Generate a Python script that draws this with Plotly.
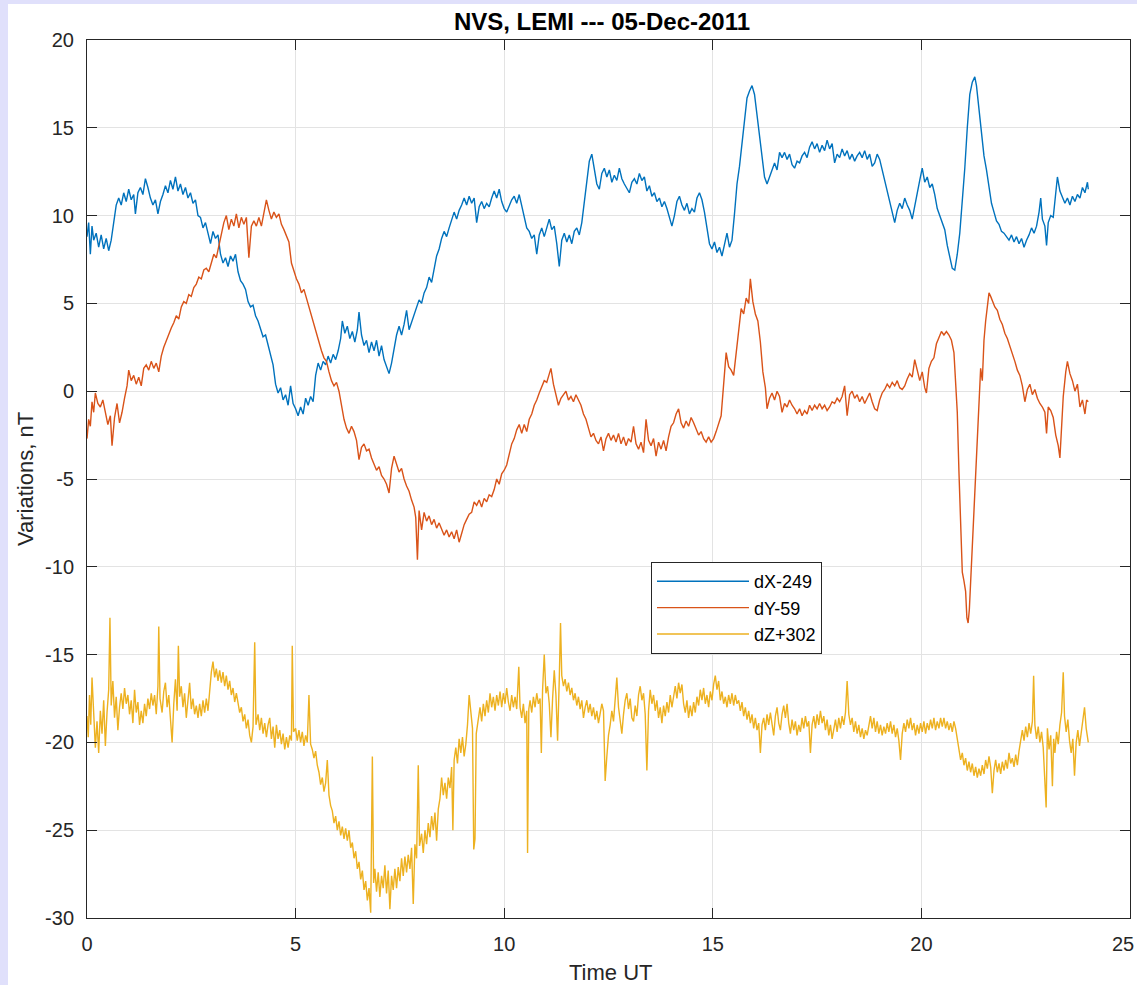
import plotly.graph_objects as go

# ---- data ----
t_dx = [0.00,0.04,0.08,0.12,0.16,0.22,0.28,0.34,0.40,0.46,0.52,0.58,0.64,0.70,0.76,0.82,0.88,0.94,1.00,1.06,
        1.12,1.16,1.22,1.28,1.34,1.40,1.46,1.52,1.58,1.64,1.70,1.76,1.82,1.88,1.94,2.00,2.06,2.12,2.18,2.24,
        2.30,2.36,2.42,2.48,2.54,2.60,2.66,2.72,2.78,2.84,2.90,2.96,3.02,3.08,3.14,3.20,3.26,3.32,3.38,3.44,
        3.50,3.56,3.62,3.68,3.74,3.80,3.86,3.92,3.98,4.04,4.10,4.16,4.22,4.28,4.34,4.40,4.46,4.52,4.58,4.64,
        4.70,4.76,4.82,4.88,4.94,5.00,5.06,5.12,5.18,5.24,5.30,5.36,5.42,5.48,5.54,5.60,5.66,5.72,5.78,5.84,
        5.90,5.96,6.02,6.08,6.12,6.18,6.24,6.30,6.36,6.42,6.48,6.52,6.58,6.64,6.70,6.76,6.82,6.88,6.94,7.00,
        7.06,7.12,7.18,7.24,7.30,7.36,7.42,7.48,7.54,7.60,7.66,7.72,7.78,7.84,7.90,7.96,8.02,8.08,8.14,8.20,
        8.26,8.32,8.38,8.44,8.50,8.56,8.62,8.68,8.74,8.80,8.86,8.92,8.98,9.04,9.10,9.16,9.22,9.28,9.34,9.40,
        9.46,9.52,9.58,9.64,9.70,9.76,9.82,9.88,9.94,10.00,10.06,10.12,10.18,10.24,10.30,10.36,10.42,10.48,10.54,10.60,
        10.66,10.72,10.78,10.84,10.90,10.96,11.02,11.08,11.14,11.20,11.26,11.32,11.38,11.44,11.50,11.56,11.62,11.68,11.74,11.80,
        11.86,11.92,11.98,12.04,12.10,12.16,12.22,12.28,12.34,12.40,12.46,12.52,12.58,12.64,12.70,12.76,12.82,12.88,12.94,13.00,
        13.06,13.12,13.18,13.24,13.30,13.36,13.42,13.48,13.54,13.60,13.66,13.72,13.78,13.84,13.90,13.96,14.02,14.08,14.14,14.20,
        14.26,14.32,14.38,14.44,14.50,14.56,14.62,14.68,14.74,14.80,14.86,14.92,14.98,15.04,15.10,15.16,15.22,15.28,15.34,15.40,
        15.46,15.52,15.58,15.64,15.70,15.76,15.82,15.88,15.94,16.00,16.06,16.12,16.18,16.24,16.30,16.36,16.42,16.48,16.54,16.60,
        16.66,16.72,16.78,16.84,16.90,16.96,17.02,17.08,17.14,17.20,17.26,17.32,17.38,17.44,17.50,17.56,17.62,17.68,17.74,17.80,
        17.86,17.92,17.98,18.04,18.10,18.16,18.22,18.28,18.34,18.40,18.46,18.52,18.58,18.64,18.70,18.76,18.82,18.88,18.94,19.00,
        19.06,19.12,19.18,19.24,19.30,19.36,19.42,19.48,19.54,19.60,19.66,19.72,19.78,19.84,19.90,19.96,20.02,20.08,20.14,20.20,
        20.26,20.32,20.38,20.44,20.50,20.56,20.62,20.68,20.74,20.80,20.86,20.92,20.98,21.04,21.10,21.16,21.22,21.28,21.32,21.38,
        21.44,21.50,21.56,21.62,21.68,21.74,21.80,21.86,21.92,21.98,22.04,22.10,22.16,22.22,22.28,22.34,22.40,22.46,22.52,22.58,
        22.64,22.70,22.76,22.82,22.86,22.90,22.96,23.00,23.04,23.10,23.16,23.22,23.26,23.32,23.38,23.44,23.50,23.56,23.62,23.68,
        23.74,23.80,23.86,23.92,23.98,24.00]
dx = [8.8,9.6,7.8,9.4,8.6,9.0,8.2,8.9,8.1,8.7,8.0,8.6,9.6,10.6,11.0,10.6,11.3,10.8,11.5,10.9,
      11.2,10.1,11.3,11.6,11.2,12.1,11.6,11.0,10.6,10.9,10.1,10.8,11.2,11.7,11.3,12.0,11.5,12.2,11.4,11.8,
      11.2,11.6,11.0,11.3,10.7,10.9,10.0,9.9,9.3,9.6,9.0,8.4,9.1,8.7,8.9,7.8,7.3,7.6,7.1,7.7,
      7.4,7.8,6.8,6.3,6.1,5.8,5.1,4.8,4.9,4.3,4.0,3.6,3.1,3.2,2.6,2.1,1.5,0.4,-0.1,0.2,
      -0.5,-0.2,-0.8,0.3,-0.7,-1.0,-1.4,-0.9,-1.3,-0.4,-0.8,-0.3,-0.6,0.9,1.6,1.2,1.7,1.5,2.0,1.6,
      2.1,1.8,2.3,3.0,4.0,3.3,3.7,3.0,3.4,2.8,3.5,4.5,3.2,2.6,2.9,2.2,2.8,2.3,2.9,2.0,
      2.6,1.8,1.4,1.0,1.6,2.4,3.2,3.7,3.2,3.8,4.6,3.5,3.9,4.3,4.8,5.2,5.0,5.6,5.9,6.5,
      6.2,6.9,7.7,8.1,8.7,9.1,8.8,9.3,9.8,10.2,9.8,10.3,10.6,11.0,10.6,11.1,10.7,11.0,9.6,10.5,
      10.8,10.4,10.7,10.5,11.0,11.4,11.0,11.5,10.8,10.4,10.2,10.6,10.9,11.1,10.7,11.2,10.6,9.9,9.3,9.1,
      8.7,8.9,7.8,8.9,9.3,8.8,9.3,9.8,9.2,9.4,8.4,7.1,8.6,9.0,8.5,8.9,8.4,9.1,9.3,8.9,
      9.6,10.7,12.0,13.1,13.5,12.7,11.8,11.5,12.4,12.7,12.2,12.6,11.9,12.3,12.0,12.7,12.1,11.8,11.5,11.3,
      11.9,12.1,11.8,12.4,12.0,12.2,11.4,11.7,11.1,11.3,10.8,11.0,10.5,10.8,10.4,9.9,9.4,10.0,10.8,11.1,
      10.6,10.3,10.7,10.1,10.4,10.2,11.0,11.3,10.9,10.2,9.3,8.4,8.1,8.5,7.9,8.2,7.7,8.4,9.0,8.2,
      8.6,10.1,11.8,12.8,14.2,15.6,16.7,17.1,17.4,16.9,15.8,14.5,13.3,12.2,11.8,12.2,12.7,13.0,12.6,13.6,
      13.3,13.6,13.2,13.5,12.9,12.7,13.1,13.0,13.4,13.6,13.3,13.9,14.2,13.8,14.1,13.6,14.0,13.7,14.3,13.8,
      14.1,13.0,13.5,13.3,13.8,13.4,13.7,13.2,13.5,13.1,13.4,13.6,13.3,13.7,13.2,13.5,12.8,13.0,13.5,13.2,
      12.6,12.0,11.4,10.9,10.2,9.6,10.3,10.7,10.4,11.0,10.6,10.3,9.8,10.6,11.4,12.0,12.7,11.9,12.2,11.6,
      11.8,11.2,10.4,10.0,9.5,9.2,8.3,7.7,7.0,6.9,7.8,9.0,10.8,12.7,15.0,16.9,17.6,17.9,17.4,16.0,
      14.6,13.4,12.6,11.6,10.7,10.2,9.7,9.5,9.1,9.0,8.8,8.6,8.9,8.5,8.8,8.4,8.7,8.2,8.6,8.9,
      9.3,9.0,9.4,10.2,11.0,9.8,9.4,8.3,9.6,10.0,9.9,11.4,12.2,11.4,11.0,10.7,11.0,10.6,11.1,10.8,
      11.2,11.0,11.6,11.3,11.9,11.5]

t_dy = [0.00,0.04,0.08,0.12,0.16,0.20,0.26,0.32,0.38,0.44,0.50,0.56,0.60,0.66,0.72,0.78,0.84,0.90,0.96,1.00,
        1.06,1.12,1.18,1.24,1.30,1.36,1.42,1.48,1.54,1.60,1.66,1.72,1.78,1.84,1.90,1.96,2.02,2.08,2.14,2.20,
        2.26,2.32,2.38,2.44,2.50,2.56,2.62,2.68,2.74,2.80,2.86,2.92,2.98,3.04,3.10,3.16,3.22,3.28,3.34,3.40,
        3.46,3.52,3.58,3.64,3.70,3.76,3.82,3.88,3.94,4.00,4.06,4.12,4.18,4.24,4.30,4.36,4.42,4.48,4.54,4.60,
        4.66,4.72,4.78,4.84,4.90,4.96,5.02,5.08,5.14,5.20,5.26,5.32,5.38,5.44,5.50,5.56,5.62,5.68,5.74,5.80,
        5.86,5.92,5.98,6.04,6.10,6.16,6.22,6.28,6.34,6.40,6.46,6.52,6.58,6.64,6.70,6.76,6.82,6.88,6.94,7.00,
        7.06,7.12,7.18,7.24,7.30,7.36,7.42,7.48,7.54,7.60,7.66,7.72,7.78,7.84,7.88,7.92,7.96,8.02,8.08,8.14,
        8.20,8.26,8.32,8.38,8.44,8.50,8.56,8.62,8.68,8.74,8.80,8.86,8.92,8.98,9.04,9.10,9.16,9.22,9.28,9.34,
        9.40,9.46,9.52,9.58,9.64,9.70,9.76,9.82,9.88,9.94,10.00,10.06,10.12,10.18,10.24,10.30,10.36,10.42,10.48,10.54,
        10.60,10.66,10.72,10.78,10.84,10.90,10.96,11.02,11.08,11.12,11.18,11.24,11.30,11.36,11.42,11.48,11.54,11.60,11.66,11.72,
        11.78,11.84,11.90,11.96,12.02,12.08,12.14,12.20,12.26,12.32,12.38,12.44,12.50,12.56,12.62,12.68,12.74,12.80,12.86,12.92,
        12.98,13.04,13.10,13.16,13.22,13.28,13.34,13.40,13.46,13.52,13.58,13.64,13.70,13.76,13.82,13.88,13.94,14.00,14.06,14.12,
        14.18,14.24,14.30,14.36,14.42,14.48,14.54,14.60,14.66,14.72,14.78,14.84,14.90,14.96,15.02,15.08,15.14,15.20,15.26,15.32,
        15.38,15.44,15.50,15.56,15.62,15.68,15.74,15.80,15.86,15.90,15.96,16.02,16.08,16.14,16.20,16.26,16.30,16.36,16.42,16.48,
        16.54,16.60,16.66,16.72,16.78,16.84,16.90,16.96,17.02,17.08,17.14,17.20,17.26,17.32,17.38,17.44,17.50,17.56,17.62,17.68,
        17.74,17.80,17.86,17.92,17.98,18.04,18.10,18.16,18.22,18.28,18.34,18.40,18.46,18.52,18.58,18.64,18.70,18.76,18.82,18.88,
        18.94,19.00,19.06,19.12,19.18,19.24,19.30,19.36,19.42,19.48,19.54,19.60,19.66,19.72,19.78,19.84,19.90,19.96,20.02,20.08,
        20.12,20.18,20.24,20.30,20.36,20.42,20.48,20.54,20.60,20.66,20.72,20.78,20.82,20.86,20.90,20.94,20.98,21.02,21.06,21.09,
        21.12,21.15,21.18,21.22,21.26,21.30,21.34,21.38,21.42,21.46,21.50,21.54,21.58,21.62,21.66,21.70,21.76,21.82,21.88,21.94,
        22.00,22.06,22.12,22.18,22.24,22.30,22.36,22.42,22.48,22.54,22.60,22.66,22.72,22.78,22.84,22.90,22.96,23.00,23.04,23.10,
        23.16,23.22,23.28,23.32,23.36,23.40,23.46,23.50,23.56,23.62,23.68,23.74,23.80,23.86,23.92,23.96,24.00]
dy = [-2.7,-1.6,-2.0,-0.6,-1.2,-0.1,-0.7,-0.9,-0.5,-1.3,-1.9,-1.4,-3.1,-1.5,-0.7,-1.8,-1.2,-0.4,0.3,1.2,
      0.6,0.9,0.4,0.8,0.3,1.3,1.5,1.2,1.7,1.3,1.6,1.1,2.0,2.5,2.9,3.3,3.6,3.9,4.3,4.1,
      4.8,5.1,5.0,5.5,5.4,5.9,6.1,6.5,6.4,6.9,7.0,6.8,7.3,7.8,7.6,8.3,8.9,9.6,10.0,9.2,
      9.8,9.4,10.1,9.3,9.9,9.5,9.9,7.6,9.4,9.7,9.4,9.9,9.4,10.2,10.9,10.3,9.8,10.2,9.9,10.1,
      9.5,9.2,8.8,8.5,7.3,6.8,6.4,6.1,5.6,5.8,5.3,4.7,4.2,3.7,3.2,2.8,2.3,1.9,1.7,1.1,
      0.6,0.3,0.5,0.0,-0.9,-1.6,-2.1,-2.4,-2.0,-2.3,-2.8,-3.9,-3.2,-3.0,-3.4,-3.3,-3.8,-4.1,-4.5,-4.3,
      -4.8,-5.0,-5.3,-5.8,-4.4,-3.7,-4.1,-4.6,-4.4,-5.0,-5.4,-5.7,-6.2,-6.6,-7.2,-9.6,-6.8,-7.9,-6.9,-7.4,
      -7.1,-7.6,-7.3,-7.8,-7.5,-7.9,-8.2,-7.9,-8.3,-8.0,-8.4,-7.9,-8.6,-8.1,-7.6,-7.3,-7.0,-6.9,-6.3,-6.5,
      -6.2,-6.6,-6.1,-6.3,-5.9,-6.0,-5.6,-5.0,-5.3,-4.7,-4.5,-4.2,-3.6,-3.0,-2.7,-2.2,-1.9,-2.4,-1.9,-2.3,
      -1.6,-1.3,-0.8,-0.5,-0.1,0.3,0.6,0.5,1.0,1.3,0.4,-0.2,-0.8,-0.4,-0.2,0.0,-0.5,-0.3,-0.6,-0.2,
      -0.5,-0.8,-1.3,-1.6,-2.1,-2.6,-2.4,-2.8,-3.0,-2.6,-3.4,-2.7,-2.4,-2.8,-2.5,-2.9,-2.4,-3.0,-2.6,-3.1,
      -2.7,-2.9,-2.0,-3.0,-3.3,-2.9,-3.5,-1.6,-2.8,-3.1,-2.7,-3.7,-2.9,-3.3,-2.8,-3.4,-2.6,-2.0,-1.8,-1.3,
      -1.0,-1.8,-2.1,-1.7,-2.0,-1.5,-1.8,-2.2,-2.5,-2.3,-2.7,-2.9,-2.6,-2.9,-2.7,-2.3,-1.8,-1.4,0.4,2.2,
      1.4,1.2,0.9,2.3,3.6,4.7,4.4,5.3,5.0,6.4,5.1,4.4,4.0,2.8,1.1,0.2,-1.0,-0.4,-0.1,-0.5,
      0.0,-0.3,-1.2,-0.7,-0.9,-0.5,-0.8,-1.0,-1.3,-1.0,-1.4,-1.1,-1.3,-0.8,-1.1,-0.8,-1.0,-0.7,-1.0,-0.8,
      -1.1,-0.9,-0.6,-0.7,-0.4,-0.6,-0.3,0.3,-1.4,-0.2,0.0,-0.4,-0.2,-0.6,-0.3,-0.7,-0.4,-0.1,-0.6,-1.0,
      -1.1,-0.5,-0.1,0.1,0.4,0.2,0.5,0.3,0.6,0.2,0.1,0.3,0.7,1.0,0.8,1.8,1.2,0.6,1.1,0.2,
      -0.1,1.3,1.7,1.9,2.7,3.1,3.4,3.2,3.4,3.2,2.9,2.2,0.6,-1.2,-4.6,-8.0,-10.3,-10.8,-11.4,-12.9,
      -13.2,-12.4,-10.9,-8.6,-6.3,-4.4,-2.6,-0.8,1.3,0.6,2.9,4.0,5.0,5.6,5.4,5.2,4.8,4.6,4.1,3.8,
      3.3,3.0,2.6,2.1,1.7,1.2,0.9,0.3,-0.6,0.1,0.4,-0.2,0.1,-0.4,-0.7,-0.9,-1.2,-2.4,-0.9,-1.1,
      -1.5,-2.5,-3.1,-3.8,-1.8,-0.3,1.1,1.7,1.0,0.6,0.0,0.4,-0.9,-0.5,-1.3,-0.5,-0.6]

t_dz = [0.00,0.03,0.06,0.09,0.12,0.16,0.20,0.24,0.28,0.32,0.36,0.40,0.44,0.48,0.52,0.55,0.58,0.62,0.66,0.70,
        0.74,0.78,0.82,0.86,0.90,0.94,0.98,1.02,1.06,1.10,1.14,1.18,1.22,1.26,1.30,1.34,1.38,1.42,1.46,1.50,
        1.54,1.58,1.62,1.66,1.70,1.72,1.75,1.80,1.84,1.88,1.92,1.96,2.00,2.04,2.08,2.12,2.16,2.19,2.22,2.26,
        2.30,2.34,2.38,2.42,2.46,2.50,2.54,2.58,2.62,2.66,2.70,2.74,2.78,2.82,2.86,2.90,2.94,2.98,3.02,3.06,
        3.10,3.14,3.18,3.22,3.26,3.30,3.34,3.38,3.42,3.46,3.50,3.54,3.58,3.62,3.66,3.70,3.74,3.78,3.82,3.86,
        3.90,3.94,3.98,4.02,4.05,4.10,4.14,4.18,4.22,4.26,4.30,4.34,4.38,4.42,4.46,4.50,4.54,4.58,4.62,4.66,
        4.70,4.74,4.78,4.82,4.86,4.90,4.92,4.95,5.00,5.04,5.08,5.12,5.16,5.20,5.24,5.28,5.32,5.36,5.40,5.44,
        5.48,5.52,5.56,5.60,5.64,5.68,5.72,5.76,5.80,5.84,5.88,5.92,5.96,6.00,6.04,6.08,6.12,6.16,6.20,6.24,
        6.28,6.32,6.36,6.40,6.44,6.48,6.52,6.56,6.60,6.64,6.68,6.72,6.76,6.80,6.84,6.87,6.90,6.94,6.98,7.02,
        7.06,7.10,7.14,7.18,7.22,7.26,7.30,7.34,7.38,7.42,7.46,7.50,7.54,7.58,7.62,7.66,7.70,7.74,7.78,7.82,
        7.86,7.90,7.94,7.97,8.02,8.06,8.10,8.14,8.18,8.22,8.26,8.30,8.34,8.38,8.42,8.46,8.50,8.54,8.58,8.62,
        8.66,8.70,8.74,8.77,8.80,8.84,8.88,8.92,8.96,9.00,9.04,9.08,9.12,9.16,9.20,9.24,9.27,9.30,9.33,9.38,
        9.42,9.46,9.50,9.54,9.58,9.62,9.66,9.70,9.74,9.78,9.82,9.86,9.90,9.94,9.98,10.02,10.06,10.10,10.14,10.18,
        10.22,10.26,10.30,10.35,10.38,10.42,10.46,10.50,10.54,10.56,10.59,10.62,10.66,10.70,10.74,10.78,10.82,10.86,10.89,10.92,
        10.96,11.00,11.04,11.08,11.12,11.16,11.20,11.24,11.28,11.32,11.35,11.38,11.42,11.46,11.50,11.54,11.58,11.62,11.66,11.70,
        11.74,11.78,11.82,11.86,11.90,11.94,11.98,12.02,12.06,12.10,12.14,12.18,12.22,12.26,12.30,12.34,12.38,12.42,12.46,12.50,
        12.54,12.58,12.62,12.66,12.70,12.74,12.78,12.82,12.86,12.90,12.94,12.98,13.02,13.06,13.10,13.14,13.18,13.22,13.26,13.30,
        13.34,13.38,13.42,13.46,13.50,13.54,13.58,13.62,13.66,13.70,13.74,13.78,13.82,13.86,13.90,13.94,13.98,14.02,14.06,14.10,
        14.14,14.18,14.22,14.26,14.30,14.34,14.38,14.42,14.46,14.50,14.54,14.58,14.62,14.66,14.70,14.74,14.78,14.82,14.86,14.90,
        14.94,14.98,15.02,15.06,15.10,15.14,15.18,15.22,15.26,15.30,15.34,15.38,15.42,15.46,15.50,15.54,15.58,15.62,15.66,15.70,
        15.74,15.78,15.82,15.86,15.90,15.94,15.98,16.02,16.06,16.10,16.14,16.18,16.22,16.26,16.30,16.34,16.38,16.42,16.46,16.50,
        16.54,16.58,16.62,16.66,16.70,16.74,16.78,16.82,16.86,16.90,16.94,16.98,17.02,17.06,17.10,17.14,17.18,17.22,17.26,17.30,
        17.34,17.38,17.42,17.46,17.50,17.54,17.58,17.62,17.66,17.70,17.74,17.78,17.82,17.86,17.90,17.94,17.98,18.02,18.06,18.10,
        18.14,18.18,18.22,18.26,18.30,18.34,18.38,18.42,18.46,18.50,18.54,18.58,18.62,18.66,18.70,18.74,18.78,18.82,18.86,18.90,
        18.94,18.98,19.02,19.06,19.10,19.14,19.18,19.22,19.26,19.30,19.34,19.38,19.42,19.46,19.50,19.54,19.58,19.62,19.66,19.70,
        19.74,19.78,19.82,19.86,19.90,19.94,19.98,20.02,20.06,20.10,20.14,20.18,20.22,20.26,20.30,20.34,20.38,20.42,20.46,20.50,
        20.54,20.58,20.62,20.66,20.70,20.74,20.78,20.82,20.86,20.90,20.94,20.98,21.02,21.06,21.10,21.14,21.18,21.22,21.26,21.30,
        21.34,21.38,21.42,21.46,21.50,21.54,21.58,21.62,21.66,21.70,21.74,21.78,21.82,21.86,21.90,21.94,21.98,22.02,22.06,22.10,
        22.14,22.18,22.22,22.26,22.30,22.34,22.38,22.42,22.46,22.50,22.54,22.58,22.62,22.66,22.69,22.72,22.76,22.80,22.84,22.88,
        22.92,22.96,22.99,23.02,23.06,23.10,23.14,23.17,23.20,23.24,23.28,23.32,23.36,23.40,23.43,23.47,23.51,23.55,23.59,23.63,
        23.67,23.71,23.75,23.79,23.83,23.87,23.91,23.95,24.00]
dz = [-18.5,-19.7,-17.3,-19.0,-16.3,-18.4,-20.3,-18.8,-20.6,-18.2,-19.5,-17.6,-20.2,-18.3,-17.0,-12.9,-17.9,-16.5,-18.6,-17.4,
      -19.3,-18.0,-17.2,-18.1,-16.9,-17.8,-17.3,-18.4,-17.6,-18.9,-17.0,-18.3,-17.7,-19.0,-18.2,-18.9,-17.8,-18.5,-17.5,-18.1,
      -17.2,-17.9,-17.3,-18.4,-16.8,-13.4,-17.5,-18.3,-17.1,-16.6,-18.0,-17.3,-18.5,-20.0,-17.8,-16.4,-18.2,-14.5,-17.4,-16.8,
      -18.0,-17.2,-18.6,-17.4,-16.6,-18.1,-17.5,-18.4,-17.9,-18.6,-17.8,-18.5,-17.6,-18.3,-17.5,-18.2,-16.9,-16.0,-15.4,-16.3,
      -15.8,-16.5,-15.9,-16.6,-16.0,-16.8,-16.2,-17.0,-16.5,-17.3,-16.9,-17.7,-17.2,-17.9,-18.3,-18.0,-18.8,-18.4,-19.2,-18.7,
      -19.6,-20.0,-19.1,-14.3,-19.0,-18.4,-19.3,-18.6,-19.5,-18.9,-19.7,-19.0,-18.6,-19.8,-19.1,-20.3,-19.0,-19.8,-19.3,-20.1,
      -19.5,-20.4,-19.7,-20.3,-19.6,-19.9,-14.5,-19.4,-19.2,-19.9,-19.3,-20.0,-19.4,-20.2,-19.6,-20.0,-17.3,-20.1,-20.4,-20.9,
      -20.5,-21.3,-21.7,-22.4,-22.0,-22.8,-22.3,-21.0,-23.0,-23.6,-23.9,-24.6,-24.2,-25.0,-24.5,-25.3,-24.8,-25.5,-24.9,-25.6,
      -25.0,-26.0,-25.7,-26.6,-26.2,-27.2,-26.8,-27.8,-27.3,-28.4,-27.9,-29.0,-28.3,-29.7,-20.8,-28.0,-27.2,-28.5,-27.4,-28.8,
      -27.6,-28.3,-27.0,-28.6,-27.3,-29.5,-27.6,-28.4,-27.2,-28.3,-27.1,-27.9,-26.6,-27.6,-26.5,-27.4,-26.4,-27.2,-26.0,-29.2,
      -25.8,-26.6,-21.3,-25.9,-25.2,-26.3,-25.0,-25.8,-24.6,-25.4,-24.2,-25.0,-24.0,-25.6,-23.8,-23.2,-22.0,-23.0,-22.3,-23.2,
      -22.0,-22.6,-21.4,-25.0,-21.0,-20.3,-21.2,-19.8,-20.6,-19.7,-20.8,-20.1,-19.0,-17.3,-18.5,-19.2,-26.1,-25.5,-19.5,-18.6,
      -18.0,-18.8,-17.8,-18.5,-17.6,-18.3,-17.2,-18.0,-17.4,-18.2,-17.3,-17.9,-17.1,-18.0,-17.2,-17.8,-16.9,-17.7,-18.2,-17.3,
      -18.0,-17.4,-18.1,-15.7,-18.0,-18.6,-17.8,-18.9,-18.2,-26.3,-18.1,-17.6,-18.3,-17.4,-18.0,-17.2,-17.8,-17.5,-20.6,-17.0,
      -15.0,-17.2,-16.8,-17.8,-19.7,-17.5,-15.9,-17.3,-19.9,-16.4,-13.2,-16.2,-16.8,-16.4,-17.1,-16.6,-17.3,-16.9,-17.6,-17.2,
      -17.9,-17.4,-18.1,-17.6,-18.6,-18.0,-17.6,-18.3,-17.8,-18.5,-18.0,-18.7,-18.2,-18.9,-18.4,-17.8,-18.2,-22.2,-20.8,-19.6,
      -19.0,-18.2,-18.8,-17.4,-16.3,-18.0,-18.7,-19.5,-18.4,-17.6,-17.2,-18.1,-17.5,-18.6,-18.8,-17.9,-18.5,-17.3,-16.8,-17.6,
      -17.2,-18.4,-21.6,-18.2,-17.0,-17.8,-17.3,-18.2,-17.6,-18.6,-18.0,-18.9,-17.9,-18.5,-17.7,-18.3,-17.3,-18.0,-17.4,-16.8,
      -17.5,-16.6,-17.2,-16.7,-17.8,-18.3,-17.6,-18.6,-17.9,-18.5,-17.7,-18.3,-17.4,-17.9,-17.0,-17.6,-16.9,-17.8,-17.3,-18.0,
      -17.1,-17.6,-16.7,-16.2,-17.0,-16.5,-17.6,-17.1,-17.8,-17.4,-18.0,-17.3,-17.8,-17.2,-17.9,-17.3,-17.8,-17.6,-18.2,-17.7,
      -18.5,-18.0,-18.7,-18.2,-18.9,-18.4,-19.2,-18.6,-19.3,-18.9,-20.6,-19.0,-18.6,-19.3,-18.4,-19.0,-18.3,-19.1,-19.6,-18.5,
      -18.0,-18.9,-19.3,-18.4,-17.9,-18.6,-17.8,-18.9,-19.5,-18.7,-19.3,-18.8,-19.6,-19.0,-19.4,-18.6,-19.2,-18.5,-19.1,-18.8,
      -20.6,-19.0,-18.5,-19.2,-18.4,-19.0,-18.2,-18.9,-18.5,-19.3,-18.7,-19.6,-19.0,-19.8,-19.2,-18.7,-19.4,-18.6,-19.2,-18.5,
      -19.0,-18.3,-16.5,-18.4,-19.0,-18.6,-19.4,-18.8,-19.5,-19.0,-19.7,-19.2,-19.8,-19.3,-19.6,-19.0,-18.5,-19.2,-18.6,-19.4,
      -18.8,-19.5,-19.0,-19.6,-19.1,-19.5,-18.9,-19.4,-18.8,-19.5,-19.0,-19.7,-19.2,-19.9,-21.0,-19.5,-18.9,-19.4,-18.7,-19.2,
      -18.6,-19.3,-18.9,-19.6,-19.0,-19.5,-18.9,-19.4,-18.8,-19.5,-18.9,-19.3,-18.7,-19.2,-18.6,-19.3,-18.8,-19.2,-18.6,-19.1,
      -18.6,-19.2,-18.8,-19.3,-18.9,-19.4,-18.8,-19.2,-19.8,-20.3,-21.0,-20.6,-21.3,-20.9,-21.6,-21.1,-21.7,-21.2,-21.9,-21.4,
      -22.0,-21.5,-21.9,-21.3,-21.8,-21.0,-21.5,-20.8,-21.4,-22.9,-21.6,-21.0,-21.7,-21.2,-21.8,-21.1,-21.6,-21.0,-21.5,-20.6,
      -21.2,-20.9,-21.4,-20.7,-21.3,-20.5,-20.0,-19.3,-19.9,-19.1,-19.7,-18.9,-19.5,-18.8,-16.2,-19.0,-19.8,-19.1,-20.0,-19.4,
      -20.3,-22.9,-23.7,-19.2,-20.4,-19.6,-22.5,-19.8,-20.6,-19.4,-20.1,-19.0,-18.3,-16.0,-18.5,-19.4,-18.7,-19.9,-20.6,-19.8,
      -21.9,-20.0,-19.3,-20.2,-19.5,-19.0,-18.0,-19.2,-20.0]

series_names = ["dX-249", "dY-59", "dZ+302"]
series_colors = ["#0072BD", "#D95319", "#EDB120"]
x_ticks = [0, 5, 10, 15, 20, 25]
x_tick_labels = ["0", "5", "10", "15", "20", ""]
x_last_label = "25"
y_ticks = [-30, -25, -20, -15, -10, -5, 0, 5, 10, 15, 20]
y_tick_labels = ["-30", "-25", "-20", "-15", "-10", "-5", "0", "5", "10", "15", "20"]
title_text = "NVS, LEMI --- 05-Dec-2011"
x_label = "Time UT"
y_label = "Variations, nT"

FONT = "Liberation Sans, Arial, Helvetica, sans-serif"
AX = "#262626"

fig = go.Figure()
for tt, vv, nm, col in zip([t_dx, t_dy, t_dz], [dx, dy, dz], series_names, series_colors):
    fig.add_trace(go.Scatter(x=tt, y=vv, mode="lines", name=nm,
                             line=dict(color=col, width=1.4)))

axis_common = dict(
    showline=True, linecolor=AX, linewidth=1, mirror="ticks",
    ticks="inside", ticklen=10, tickcolor=AX, tickwidth=1,
    showgrid=True, gridcolor="#e3e3e3", gridwidth=1,
    zeroline=False, tickfont=dict(family=FONT, size=20, color=AX),
    automargin=False,
)
fig.update_xaxes(range=[0, 25], tickvals=x_ticks, ticktext=x_tick_labels,
                 ticklabelstandoff=8, **axis_common)
fig.update_yaxes(range=[-30, 20], tickvals=y_ticks, ticktext=y_tick_labels,
                 ticklabelstandoff=8, **axis_common)

fig.update_layout(
    width=1137, height=985,
    margin=dict(l=87, r=7, t=40, b=67),
    paper_bgcolor="#e0e0fb", plot_bgcolor="white",
    font=dict(family=FONT, color=AX),
    title=dict(text="<b>" + title_text + "</b>", x=(602 - 87) / 1043, xref="paper", xanchor="center",
               y=1 - 22 / 985, yref="container", yanchor="middle",
               font=dict(family=FONT, size=24, color="black")),
    showlegend=True,
    legend=dict(x=(651 - 87) / 1043, y=(918 - 562) / 878, xanchor="left", yanchor="top",
                bgcolor="white", bordercolor=AX, borderwidth=1,
                font=dict(family=FONT, size=18, color="black"), itemwidth=92),
    shapes=[dict(type="rect", xref="paper", yref="paper", layer="below",
                 x0=(8 - 87) / 1043, x1=1.2, y0=-0.2, y1=(918 - 4) / 878,
                 fillcolor="white", line=dict(width=0))],
    annotations=[
        dict(text=x_last_label, xref="paper", yref="paper", x=(1136 - 87) / 1043, y=(918 - 944) / 878,
             xanchor="right", yanchor="middle", showarrow=False,
             font=dict(family=FONT, size=20, color=AX)),
        dict(text=x_label, xref="paper", yref="paper", x=(611 - 87) / 1043, y=(918 - 972) / 878,
             xanchor="center", yanchor="middle", showarrow=False,
             font=dict(family=FONT, size=22, color=AX)),
        dict(text=y_label, xref="paper", yref="paper", x=(25 - 87) / 1043, y=0.5,
             xanchor="center", yanchor="middle", textangle=-90, showarrow=False,
             font=dict(family=FONT, size=22, color=AX)),
    ],
)

fig.write_html("out.html")
